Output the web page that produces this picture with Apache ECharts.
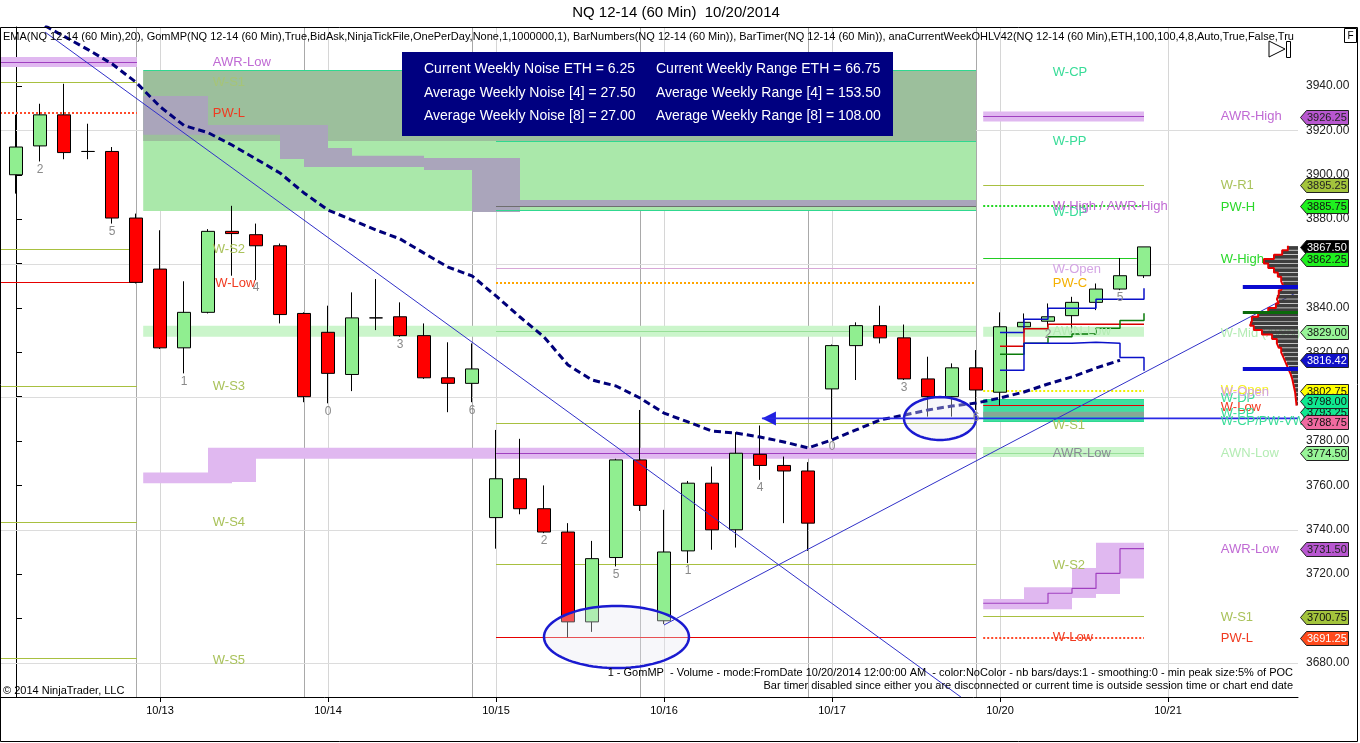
<!DOCTYPE html>
<html><head><meta charset="utf-8">
<script src="https://cdn.jsdelivr.net/npm/echarts@6/dist/echarts.min.js"></script>
<style>html,body{margin:0;padding:0;background:#fff;}#c{width:1360px;height:743px;}</style>
</head><body><div id="c"></div>
<script>
// ---------------- DATA ----------------
// hourly bars, [open, close, low, high]
const candles = [
 [3900,3912.5,3891.5,3927],[3913,3927,3906,3932],[3927,3910,3907,3941],[3910.5,3910.5,3907,3923],
 [3910.5,3880.5,3878,3912.5],[3880.5,3851.5,3851,3882.5],[3857.5,3822,3821.5,3875],[3822,3838,3810.5,3852],
 [3838,3874.5,3837.5,3875.5],[3874.5,3873.5,3854.5,3886],[3873,3868,3852.5,3878],[3868,3837,3833,3869],
 [3837.5,3800,3797.5,3838],[3829,3810.5,3797,3841],[3810,3835.5,3802.5,3847],[3835.5,3835.5,3830,3853],
 [3836,3827.5,3827,3842.5],[3827.5,3808.5,3808,3833],[3808.5,3806,3793,3824.5],[3806,3812.5,3797.5,3824],
 [3745.5,3763,3731.5,3785],[3763,3749.5,3747,3781],[3749.5,3739,3738.5,3760],[3739,3698.5,3691.5,3743],
 [3698.5,3727,3694,3735],[3727.5,3771.5,3723.5,3772],[3771.5,3751,3748.5,3794],[3699,3730,3697.5,3749],
 [3730.5,3761,3725,3762],[3761,3740,3731,3768.5],[3740,3774.5,3732,3784],[3774,3769,3762.5,3787],
 [3769,3766.5,3743,3773],[3766.5,3743,3730.5,3770.5],[3803.5,3823,3781,3823.5],[3823,3832,3807.5,3833.5],
 [3832,3826.5,3824,3841],[3826.5,3808,3807.5,3832.5],[3808,3800,3791,3818],[3800,3813,3791,3815],
 [3813,3803,3794,3821],[3802,3831.5,3796,3838],[3831.5,3833.5,3830,3837.5],[3834,3836,3831.5,3842],
 [3836.5,3842.5,3829,3845],[3842.5,3848.5,3839,3851],[3848.5,3854.5,3848,3862.5],[3854.5,3867.5,3853.5,3867.5]
];
// EMA(20) per bar
const ema = [3974.3,3968.4,3962.4,3956.4,3950,3941.7,3930.7,3922.2,3919,3913.4,3907.1,3900.8,3891.8,3884.1,
 3879.6,3875.1,3871.1,3864.7,3858.4,3854.4,3845.4,3835.9,3826.9,3814.3,3807.5,3804.8,3799.4,3792.6,3788.6,
 3784.5,3783.6,3781.8,3779.6,3776.9,3780.5,3785,3789.5,3791.7,3794,3795.8,3797.1,3799.4,3802.1,3805.7,3808.9,
 3812.9,3816.42];
// x axis (bar index) date ticks
const dateTickBars = [6,13,20,27,34,41,48];
const dateTickLabels = ['10/13','10/14','10/15','10/16','10/17','10/20','10/21'];
const sessionBreakBars = [5,12,19,26,33,40];
const priceTicks = [3680,3700,3720,3740,3760,3780,3800,3820,3840,3860,3880,3900,3920,3940];
const gridPrices = [3920,3860,3800,3740,3680];
// bar numbers
const barNumberBars = [1,4,7,10,13,16,19,22,25,28,31,34,37,40,43,46];
const barNumberText = ['2','5','1','4','0','3','6','2','5','1','4','0','3','6','2','5'];
// zones [fromBar, toBar, priceTop, priceBottom]
const zoneGreenLight = [[5.3,40,3946.8,3883.7]];
const zoneGreenDark = [[5.3,40,3946.8,3915.2]];
const zoneAwrHigh = [[5.3,8,3935.5,3918],[8,11,3922.4,3918],[11,13,3922.4,3907.1],[12,14,3912.1,3903.5],
 [14,17,3908.6,3903.5],[17,19,3907.6,3902.1],[19,21,3907.6,3883.2],[21,40,3888.6,3885.9]];
const zonePurple = [[-0.6667,5.04,3953.1,3948.6],[5.3,9,3765.8,3761],[8,10,3777,3761.5],[10,40,3777,3772],
 [40.3,47,3928.5,3924],[40.3,42,3708.8,3704.2],[42,44,3714.1,3704.2],[44,45,3722.8,3709.3],[45,46,3734.2,3711.1],[46,47,3734.2,3718.1]];
const zoneMid = [[5.3,40,3832,3827],[40.3,47,3831.5,3827],[40.3,47,3777.3,3772.8]];
const zoneTeal = [[40.3,47,3798.5,3788.7]];
const zoneTealGray = [[40.3,47,3793.2,3791]];
// level lines [fromBar, toBar, price]
const oliveLevels = [[-0.6667,5.04,3941.7],[-0.6667,5.04,3866.4],[-0.6667,5.04,3804.8],[-0.6667,5.04,3743.4],
 [-0.6667,5.04,3681.8],[20,40,3787.7],[20,40,3724.4],[40.3,47,3895.25],[40.3,47,3700.75]];
const redLevels = [[-0.6667,5.04,3851.4],[20,40,3691.5],[40.3,47,3795.8]];
const redDottedLevels = [[-0.6667,5.04,3927.8],[40.3,47,3691.25]];
const orangeDottedLevels = [[20,40,3851.2]];
const yellowDottedLevels = [[40.3,47,3802.75]];
const greenDottedLevels = [[40.3,47,3885.75]];
const greenLevels = [[40.3,46.7,3862.25]];
const lavenderLevels = [[20,40,3857.7]];
const tealLevels = [[5.3,40,3946.8],[20,40,3915.2],[20,40,3883.7],[40.3,47,3798.5],[40.3,47,3788.7]];
const grayLevels = [[20,40,3885.5]];
const purpleLevels = [[-0.6667,5.04,3950.8],[20,40,3774.2],[40.3,47,3926.25]];
const mintLevels = [[20,40,3829.3],[40.3,47,3774.5]];
const awrLowStep = [[40.3,3706.9],[43,3711.4],[44,3713.6],[45,3720.4],[46,3731.5],[47,3731.5]];
// current-week step lines
const stepBlueHigh = [[41,3828.9],[42,3834.9],[43,3839.8],[45,3843.9],[47,3848.8]];
const stepRed = [[41,3822.7],[42,3830.6],[43,3832.6],[47,3832.6]];
const stepGreen = [[41,3819.1],[42,3824.1],[43,3827],[44,3828.2],[45,3830.8],[46,3834.3],[47,3837.6]];
const stepBlueLow = [[41,3811.9],[42,3824.1],[44,3824.5],[45,3824.1],[46,3817.6],[47,3811.7]];
// drawings
const trendDown = [[1.21,3964.3],[39.375,3664.6]];
const trendUp = [[27,3697.1],[53.42,3847.3]];
const arrowLine = [[31.08,3790.2],[53.42,3790.2]];
const ellipseBoxes = [[22,28.04,3705.7,3677.7],[37,40,3799.8,3780.5]];
// level labels [bar, price, text]
const purpleLabels = [[8.2,3950.8,'AWR-Low'],[43.2,3885.6,'W-High / AWR-High'],[50.2,3926.5,'AWR-High'],[50.2,3731.3,'AWR-Low']];
const oliveLabels = [[8.2,3866.2,'W-S2'],[8.2,3804.8,'W-S3'],[8.2,3743.1,'W-S4'],[8.2,3681.3,'W-S5'],
 [43.2,3787.2,'W-S1'],[43.2,3724.1,'W-S2'],[50.2,3895,'W-R1'],[50.2,3700.7,'W-S1']];
const fadedLabels = [[8.2,3941.7,'W-S1']];
const redLabels = [[8.2,3927.8,'PW-L'],[8.3,3851.2,'W-Low'],[43.2,3691.7,'W-Low'],[50.2,3795.3,'W-Low'],[50.2,3691.2,'PW-L']];
const tealLabels = [[43.2,3946.3,'W-CP'],[43.2,3915.2,'W-PP'],[43.2,3883.2,'W-DP'],[50.2,3799.4,'W-DP'],[50.2,3792.6,'W-PP'],[50.2,3789,'W-CP/PW-VWAP']];
const greenLabels = [[50.2,3885.5,'PW-H'],[50.2,3862,'W-High']];
const mintLabels = [[43.2,3829.3,'AWN-Low'],[50.2,3828.7,'W-Mid (AWN)'],[50.2,3774.6,'AWN-Low']];
const lavenderLabels = [[43.2,3857.5,'W-Open'],[50.2,3802.1,'W-Open']];
const yellowLabels = [[50.2,3802.8,'W-Open']];
const goldLabels = [[43.2,3851.2,'PW-C']];
const grayLabels = [[43.2,3774.2,'AWR-Low']];
// right-axis price flags (draw order)
const tagPrices = [3926.25,3895.25,3885.75,3867.50,3862.25,3829.00,3816.42,3802.75,3793.25,3798.00,3788.75,3774.50,3731.50,3700.75,3691.25];
const tagFill = ['#b857d0','#a3c43c','#1ff01f','#000000','#1ff01f','#98f598','#1010c8','#ffff00','#10e890','#10e890','#f06aa0','#98f598','#b857d0','#a3c43c','#ff4a1c'];
const tagInk = ['#222','#222','#111','#fff','#111','#111','#fff','#111','#111','#111','#111','#111','#222','#111','#fff'];
// volume profile 10/20 [price, % of POC]
const profile = [[3867,21],[3865,33],[3863,50],[3861,71],[3859,62],[3857,50],[3855,42],[3853,35],[3851,31],
 [3849,35],[3847,40],[3845,44],[3843,40],[3841,46],[3839,62],[3837,83],[3835,96],[3833,100],[3831,92],[3829,75],
 [3827,54],[3825,44],[3823,40],[3821,35],[3819,31],[3817,27],[3815,23],[3813,19],[3811,15],[3809,12],[3807,10],
 [3805,8],[3803,6],[3801,5],[3799,4],[3797,3]];
const profileBlueMarks = [[0,115,3849.5],[0,115,3812.25]];
const profileGreenMarks = [[0,115,3838]];

// ---------------- CHART ----------------
const Y_MIN = 3664.65, Y_MAX = 3966.59, X_MIN = -0.6667, X_MAX = 53.4167;
const FONT = '"Liberation Sans", Arial, sans-serif';
const chart = echarts.init(document.getElementById('c'));

function zoneSeries(data, color, z){
  return {type:'custom', z, silent:true, data, encode:{x:[0,1], y:[2,3]},
    renderItem(p, api){
      const a = api.coord([api.value(0), api.value(2)]), b = api.coord([api.value(1), api.value(3)]);
      return {type:'rect', shape:{x:a[0], y:a[1], width:b[0]-a[0], height:b[1]-a[1]}, style:{fill:color}};
    }};
}
function levelSeries(data, color, width, dash, z, xAxisIndex){
  return {type:'custom', z, silent:true, data, xAxisIndex: xAxisIndex||0, encode:{x:[0,1], y:2},
    renderItem(p, api){
      const a = api.coord([api.value(0), api.value(2)]), b = api.coord([api.value(1), api.value(2)]);
      const x0 = Math.min(a[0], b[0]), x1 = Math.max(a[0], b[0]);
      if (!dash) {
        return {type:'rect', shape:{x:x0, y:Math.round(a[1] - width/2), width:x1-x0, height:width}, style:{fill:color}};
      }
      const y = Math.round(a[1]);
      return {type:'line', shape:{x1:x0, y1:y, x2:x1, y2:y}, style:{stroke:color, lineWidth:width, lineDash:dash}};
    }};
}
function labelSeries(items, color, z, size){
  return {type:'custom', z, silent:true, data: items.map(d=>[d[0], d[1]]), encode:{x:0, y:1},
    renderItem(p, api){
      const a = api.coord([api.value(0), api.value(1)]);
      return {type:'text', x:a[0], y:a[1], style:{text: items[p.dataIndex][2], fill:color, fontSize:size||13, fontFamily:FONT,
        align:'left', verticalAlign:'middle', textAlign:'left', textVerticalAlign:'middle'}};
    }};
}
function lineSeries(data, color, width, type, z, step){
  return {type:'line', z, silent:true, data, showSymbol:false, symbol:'none', step: step||false,
    lineStyle:{color, width, type: type||'solid'}, animation:false};
}
function vLineSeries(bars, color){
  return {type:'custom', z:1, silent:true, data: bars.map(b=>[b]), encode:{x:0},
    renderItem(p, api){
      const x = Math.round(api.coord([api.value(0), Y_MIN])[0]);
      return {type:'rect', shape:{x:x, y:p.coordSys.y, width:1, height:p.coordSys.height}, style:{fill:color}};
    }};
}

const series = [];
series.push(vLineSeries(dateTickBars, '#d6d6d6'));
series.push(vLineSeries(sessionBreakBars, '#a9a9a9'));
series.push({type:'custom', z:1, silent:true, data: gridPrices.map(v=>[X_MIN, v]), encode:{y:1},
  renderItem(p, api){
    const y = Math.round(api.coord([X_MIN, api.value(1)])[1]);
    return {type:'rect', shape:{x:p.coordSys.x, y:y, width:p.coordSys.width, height:1}, style:{fill:'#dcdcdc'}};
  }});
// zones
series.push(zoneSeries(zoneGreenLight, '#aae8aa', 2));
series.push(zoneSeries(zoneGreenDark, '#9cbf9c', 2));
series.push(zoneSeries(zoneMid, '#cbf5cb', 2));
series.push(zoneSeries(zonePurple, '#e0b8f0', 2));
series.push(zoneSeries(zoneAwrHigh, '#aaa5bb', 2));
series.push(zoneSeries(zoneTeal, '#3fe0a0', 2));
series.push(zoneSeries(zoneTealGray, '#86a896', 2));
// levels
series.push(levelSeries(oliveLevels, '#a8c040', 1, null, 3));
series.push(levelSeries(redLevels, '#e60000', 1, null, 3));
series.push(levelSeries(redDottedLevels, '#ff4a2a', 2, [2,2], 3));
series.push(levelSeries(orangeDottedLevels, '#ffa500', 2, [2,2], 3));
series.push(levelSeries(yellowDottedLevels, '#f0f000', 2, [2,2], 3));
series.push(levelSeries(greenDottedLevels, '#22d622', 2, [2,2], 3));
series.push(levelSeries(greenLevels, '#22cc22', 1, null, 3));
series.push(levelSeries(lavenderLevels, '#d8a8d8', 1, null, 3));
series.push(levelSeries(tealLevels, '#30d890', 1, null, 3));
series.push(levelSeries(grayLevels, '#6e6e6e', 1, null, 3));
series.push(levelSeries(purpleLevels, '#a040c0', 1, null, 3));
series.push(levelSeries(mintLevels, '#98e098', 1, null, 3));
series.push(lineSeries(awrLowStep, '#a040c0', 1.2, 'solid', 3, 'end'));
// candles
series.push({type:'candlestick', z:5, silent:true, barWidth:13,
  data: candles.map((c,i)=>[i, c[0], c[1], c[2], c[3]]), encode:{x:0, y:[1,2,3,4]},
  itemStyle:{color:'#90ee90', color0:'#ff0000', borderColor:'#000', borderColor0:'#000', borderWidth:1}});
// step lines + EMA
series.push(lineSeries(stepBlueHigh, '#0a10c8', 1.5, 'solid', 6, 'end'));
series.push(lineSeries(stepRed, '#d80000', 1.5, 'solid', 6, 'end'));
series.push(lineSeries(stepGreen, '#0a7a0a', 1.5, 'solid', 6, 'end'));
series.push(lineSeries(stepBlueLow, '#0a10c8', 1.5, 'solid', 6, 'end'));
series.push(lineSeries(ema.map((v,i)=>[i,v]), '#00007a', 3, [7,4], 6));
// trend lines & arrow
series.push(lineSeries(trendDown, '#3030c8', 1, 'solid', 7));
series.push(lineSeries(trendUp, '#3030c8', 1, 'solid', 7));
series.push(lineSeries(arrowLine, '#2a2ae6', 1.6, 'solid', 7));
series.push({type:'custom', z:7, silent:true, data:[arrowLine[0]], encode:{x:0,y:1},
  renderItem(p, api){
    const a = api.coord([api.value(0), api.value(1)]);
    return {type:'polygon', shape:{points:[[a[0],a[1]],[a[0]+14,a[1]-7],[a[0]+14,a[1]+7]]}, style:{fill:'#2020e0'}};
  }});
series.push({type:'custom', z:7, silent:true, data: ellipseBoxes, encode:{x:[0,1], y:[2,3]},
  renderItem(p, api){
    const a = api.coord([api.value(0), api.value(2)]), b = api.coord([api.value(1), api.value(3)]);
    const cx=(a[0]+b[0])/2, cy=(a[1]+b[1])/2, rx=Math.abs(b[0]-a[0])/2, ry=Math.abs(b[1]-a[1])/2;
    const pts=[]; for(let k=0;k<96;k++){const t=k/96*Math.PI*2; pts.push([cx+rx*Math.cos(t), cy+ry*Math.sin(t)]);}
    return {type:'polygon', shape:{points:pts}, style:{fill:'rgba(232,232,240,0.35)', stroke:'#1a1ad0', lineWidth:2.5}};
  }});
// bar numbers
series.push({type:'custom', z:8, silent:true, data: barNumberBars.map(i=>[i, candles[i][2]]), encode:{x:0,y:1},
  renderItem(p, api){
    const a = api.coord([api.value(0), api.value(1)]);
    return {type:'text', x:a[0], y:a[1]+2, style:{text: barNumberText[p.dataIndex], fill:'#8a8a8a', fontSize:12, fontFamily:FONT,
      align:'center', verticalAlign:'top', textAlign:'center', textVerticalAlign:'top'}};
  }});
// labels
series.push(labelSeries(fadedLabels, 'rgba(175,200,90,0.55)', 8));
series.push(labelSeries(oliveLabels, '#a9c25a', 8));
series.push(labelSeries(redLabels, '#f03a20', 8));
series.push(labelSeries(tealLabels, '#38dc98', 8));
series.push(labelSeries(greenLabels, '#2ad82a', 8));
series.push(labelSeries(mintLabels, '#b4ecb4', 8));
series.push(labelSeries(yellowLabels, '#f5f020', 8));
series.push(labelSeries(lavenderLabels, '#d4a4e4', 8));
series.push(labelSeries(goldLabels, '#f4b000', 8));
series.push(labelSeries(grayLabels, '#8a8a96', 8));
series.push(labelSeries(purpleLabels, '#c06ad4', 8));
// volume profile
series.push({type:'custom', z:9, silent:true, xAxisIndex:1, data: profile.map(d=>[d[1], d[0]]), encode:{x:0,y:1},
  renderItem(p, api){
    const a = api.coord([0, api.value(1)+0.85]), b = api.coord([api.value(0), api.value(1)-0.85]);
    return {type:'rect', shape:{x:b[0], y:a[1], width:a[0]-b[0], height:b[1]-a[1]}, style:{fill:'#3e3e3e'}};
  }});
series.push(Object.assign(lineSeries(profile.flatMap(d=>[[d[1], d[0]+1],[d[1], d[0]-1]]), '#e80000', 2, 'solid', 9), {xAxisIndex:1}));
series.push(levelSeries(profileBlueMarks, '#0a0ad0', 4, null, 10, 1));
series.push(levelSeries(profileGreenMarks, '#0a6a0a', 3, null, 10, 1));
// price flags
series.push({type:'custom', z:20, silent:true, clip:false, data: tagPrices.map(v=>[X_MAX, v]), encode:{x:0,y:1},
  renderItem(p, api){
    const c = api.coord([api.value(0), api.value(1)]);
    const x = Math.round(c[0]) + 2.5, y = Math.round(c[1]) + 0.5, h = 7, w = 48;
    return {type:'group', children:[
      {type:'polygon', shape:{points:[[x,y],[x+6,y-h],[x+w,y-h],[x+w,y+h],[x+6,y+h]]}, style:{fill:tagFill[p.dataIndex], stroke:'#202020', lineWidth:1}},
      {type:'text', x:x+6.5, y:y+0.5, style:{text: tagPrices[p.dataIndex].toFixed(2), fill: tagInk[p.dataIndex], fontSize:11, fontFamily:FONT,
        align:'left', verticalAlign:'middle', textAlign:'left', textVerticalAlign:'middle'}}
    ]};
  }});

const infoRows = [
  ['Current Weekly Noise ETH = 6.25','Current Weekly Range ETH = 66.75'],
  ['Average Weekly Noise [4] = 27.50','Average Weekly Range [4] = 153.50'],
  ['Average Weekly Noise [8] = 27.00','Average Weekly Range [8] = 108.00']
];
const indicatorText = 'EMA(NQ 12-14 (60 Min),20), GomMP(NQ 12-14 (60 Min),True,BidAsk,NinjaTickFile,OnePerDay,None,1,1000000,1), BarNumbers(NQ 12-14 (60 Min)), BarTimer(NQ 12-14 (60 Min)), anaCurrentWeekOHLV42(NQ 12-14 (60 Min),ETH,100,100,4,8,Auto,True,False,True)';

function gtext(x, y, text, size, color, align, extra){
  return Object.assign({type:'text', x, y, z:100, silent:true, style:{text, fill:color||'#000', fontSize:size, fontFamily:FONT,
    align:align||'left', verticalAlign:'middle', textAlign:align||'left', textVerticalAlign:'middle'}}, extra||{});
}
const graphics = [
  {type:'rect', z:100, silent:true, shape:{x:0.5, y:27.5, width:1357, height:714}, style:{fill:null, stroke:'#000', lineWidth:1}},
  gtext(676, 13, 'NQ 12-14 (60 Min)  10/20/2014', 15, '#000', 'center'),
  {type:'text', x:3, y:37, z:100, silent:true, style:{text:indicatorText, fill:'#000', fontSize:11, fontFamily:FONT,
    width:1292, overflow:'truncate', ellipsis:'', align:'left', verticalAlign:'middle', textAlign:'left', textVerticalAlign:'middle'}},
  {type:'rect', z:100, silent:true, shape:{x:402, y:52, width:491, height:84}, style:{fill:'#000080'}},
  gtext(3, 691, '\u00a9 2014 NinjaTrader, LLC', 11, '#000'),
  gtext(1293, 673, '1 - GomMP  - Volume - mode:FromDate 10/20/2014 12:00:00 AM  - color:NoColor - nb bars/days:1 - smoothing:0 - min peak size:5% of POC', 11, '#000', 'right'),
  gtext(1293, 686, 'Bar timer disabled since either you are disconnected or current time is outside session time or chart end date', 11, '#000', 'right'),
  {type:'rect', z:100, silent:true, shape:{x:1344.5, y:28.5, width:12, height:14}, style:{fill:'#fff', stroke:'#000', lineWidth:1}},
  gtext(1350.5, 36, 'F', 10, '#000', 'center'),
  {type:'polygon', z:100, silent:true, shape:{points:[[1269,41],[1285,49],[1269,57]]}, style:{fill:'#fff', stroke:'#000', lineWidth:1}},
  {type:'rect', z:100, silent:true, shape:{x:1286.5, y:41.5, width:4, height:16}, style:{fill:'#fff', stroke:'#000', lineWidth:1}}
];
infoRows.forEach((r, k)=>{
  graphics.push(gtext(424, 69 + k*23.7, r[0], 14, '#fff'));
  graphics.push(gtext(656, 69 + k*23.7, r[1], 14, '#fff'));
});

chart.setOption({
  animation:false,
  backgroundColor:'#fff',
  grid:{left:0, right:62, top:27, bottom:46, containLabel:false},
  xAxis:[
    {type:'value', min:X_MIN, max:X_MAX, splitLine:{show:false},
     axisLine:{lineStyle:{color:'#000', width:1}, onZero:false},
     axisTick:{show:true, length:5, lineStyle:{color:'#000'}, customValues: dateTickBars},
     axisLabel:{customValues: dateTickBars, margin:8, color:'#000', fontSize:11, fontFamily:FONT,
       formatter: v => { const k = dateTickBars.indexOf(Math.round(v)); return k >= 0 ? dateTickLabels[k] : ''; }}},
    {type:'value', min:0, max:2704, inverse:true, show:false, gridIndex:0}
  ],
  yAxis:{type:'value', position:'right', min:Y_MIN, max:Y_MAX, scale:true, splitLine:{show:false},
    axisLine:{show:true, lineStyle:{color:'#000', width:1}},
    axisTick:{show:true, length:6, lineStyle:{color:'#000'}, customValues: priceTicks},
    axisLabel:{customValues: priceTicks, margin:8, color:'#222', fontSize:12, fontFamily:FONT, formatter: v => v.toFixed(2)}},
  series,
  graphic: graphics
});
</script></body></html>
